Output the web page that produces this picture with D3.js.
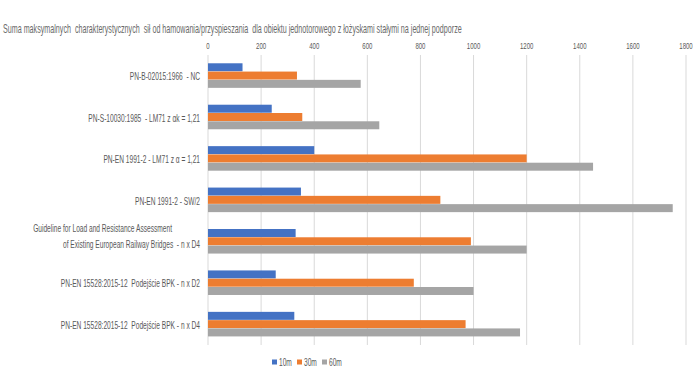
<!DOCTYPE html>
<html><head><meta charset="utf-8">
<script src="https://cdn.jsdelivr.net/npm/d3@7"></script>
<style>
body{margin:0;background:#fff;}
text{font-family:"Liberation Sans",Arial,sans-serif;white-space:pre;}
</style></head>
<body><svg id="c" width="695" height="391"></svg>
<script>
const title = "Suma maksymalnych  charakterystycznych  sił od hamowania/przyspieszania  dla obiektu jednotorowego z łożyskami stałymi na jednej podporze";
const categories = [
  ["PN-B-02015:1966  - NC"],
  ["PN-S-10030:1985  - LM71 z αk = 1,21"],
  ["PN-EN 1991-2 - LM71 z α = 1,21"],
  ["PN-EN 1991-2 - SW/2"],
  ["Guideline for Load and Resistance Assessment", "of Existing European Railway Bridges  - n x D4"],
  ["PN-EN 15528:2015-12  Podejście BPK - n x D2"],
  ["PN-EN 15528:2015-12  Podejście BPK - n x D4"]
];
const seriesNames = ["10m", "30m", "60m"];
const v10 = [130, 240, 400, 350, 330, 255, 325];
const v30 = [335, 355, 1200, 875, 990, 775, 970];
const v60 = [575, 645, 1450, 1750, 1200, 1000, 1175];
const colors = ["#4472C4", "#ED7D31", "#A5A5A5"];
const xTicks = [0, 200, 400, 600, 800, 1000, 1200, 1400, 1600, 1800];

const svg = d3.select("#c");
const pL = 208, pR = 686, pT = 55, pB = 345;
const sx = 0.63; // horizontal condensation to mimic a narrow font
const txtCol = "#595959";
const x = d3.scaleLinear().domain([0, 1800]).range([pL, pR]);
const y = d3.scaleBand().domain(d3.range(categories.length)).range([pT, pB]).paddingInner(0.4).paddingOuter(0.2);
const ySub = d3.scaleBand().domain(d3.range(3)).range([0, y.bandwidth()]);
const series = [v10, v30, v60];

function ntext(px, py, str, size, anchor) {
  return svg.append("g").attr("transform", `translate(${px},${py}) scale(${sx},1)`)
    .append("text").attr("x", 0).attr("y", 0).attr("text-anchor", anchor || "start")
    .attr("font-size", size).attr("fill", txtCol).text(str);
}

// title, condensed to fit its width in the reference
const tg = svg.append("g");
const tt = tg.append("text").attr("x", 0).attr("y", 0).attr("font-size", 13.5).attr("fill", "#6a6a6a").text(title);
const tw = tt.node().getComputedTextLength();
tg.attr("transform", `translate(3,33) scale(${459 / tw},1)`);

// gridlines
svg.append("g").selectAll("line").data(xTicks).join("line")
  .attr("x1", d => x(d)).attr("x2", d => x(d)).attr("y1", pT).attr("y2", pB)
  .attr("stroke", "#d9d9d9").attr("stroke-width", 1);

// top axis labels
const ax = svg.append("g").attr("transform", `translate(0,${49})`)
  .call(d3.axisTop(x).tickValues(xTicks).tickFormat(d3.format("d")).tickSize(0).tickPadding(0));
ax.select(".domain").remove();
ax.selectAll(".tick text").attr("font-size", 9).attr("fill", txtCol)
  .attr("font-family", "'Liberation Sans',sans-serif")
  .attr("transform", `scale(0.67,1)`).attr("x", 0).attr("text-anchor", "middle");
ax.selectAll(".tick").attr("transform", d => `translate(${x(d)},0)`);

// bars
const gRows = svg.append("g").selectAll("g").data(categories).join("g")
  .attr("transform", (d, i) => `translate(0,${y(i)})`);
gRows.selectAll("rect").data((d, i) => series.map((s, k) => ({k, v: s[i]}))).join("rect")
  .attr("x", x(0)).attr("y", d => ySub(d.k)).attr("height", ySub.bandwidth() - 0.3)
  .attr("width", d => x(d.v) - x(0)).attr("fill", d => colors[d.k]);

// category labels
categories.forEach((lines, i) => {
  const cy = y(i) + y.bandwidth() / 2;
  if (lines.length === 1) {
    ntext(200, cy + 4.5, lines[0], 10.5, "end");
  } else {
    ntext(172, cy - 9, lines[0], 10.5, "end");
    ntext(200, cy + 6.5, lines[1], 10.5, "end");
  }
});

// legend
const lx = [272, 297, 322];
seriesNames.forEach((name, i) => {
  svg.append("rect").attr("x", lx[i]).attr("y", 359.5).attr("width", 5).attr("height", 5).attr("fill", colors[i]);
  ntext(lx[i] + 7, 365.5, name, 10.5, "start");
});
</script></body></html>
